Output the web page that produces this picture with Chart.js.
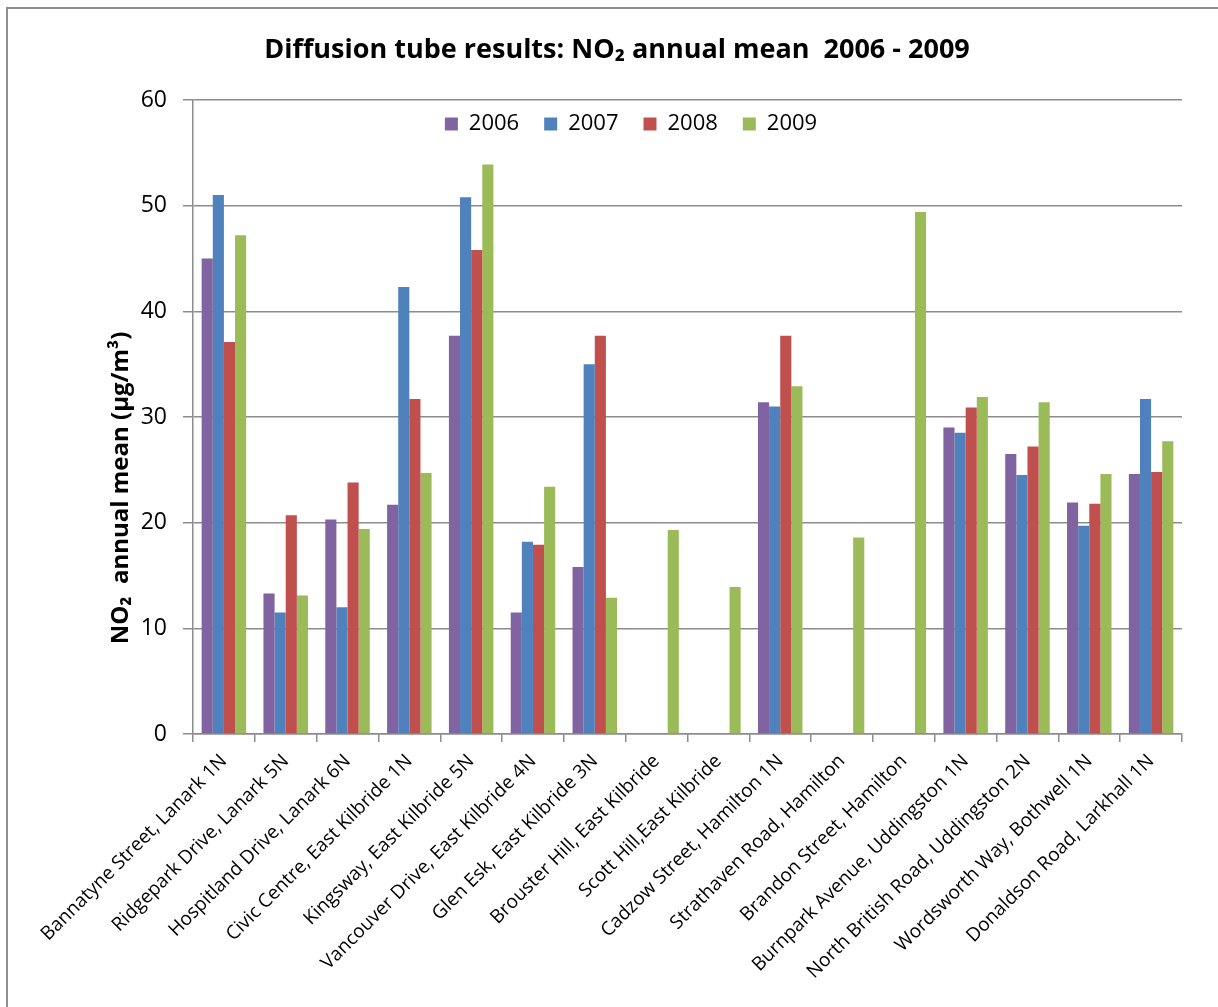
<!DOCTYPE html>
<html>
<head>
<meta charset="utf-8">
<title>Diffusion tube results</title>
<script src="https://cdn.jsdelivr.net/npm/chart.js@4.4.1/dist/chart.umd.min.js"></script>
<style>
    html, body { margin: 0; padding: 0; background: #fff; overflow: hidden; }
    #wrap { position: relative; width: 1218px; height: 1007px; }
    #frame {
        position: absolute; left: 6px; top: 7px; width: 1300px; height: 1100px;
        border-left: 2px solid #8e8e8e; border-top: 2px solid #8e8e8e;
        pointer-events: none;
    }
</style>
</head>
<body>
<div id="wrap">
    <canvas id="chart" width="1218" height="1007"></canvas>
    <div id="frame"></div>
</div>
<script>
const sites = [
    'Bannatyne Street, Lanark 1N',
    'Ridgepark Drive, Lanark 5N',
    'Hospitland Drive, Lanark 6N',
    'Civic Centre, East Kilbride 1N',
    'Kingsway, East Kilbride 5N',
    'Vancouver Drive, East Kilbride 4N',
    'Glen Esk, East Kilbride 3N',
    'Brouster Hill, East Kilbride',
    'Scott Hill,East Kilbride',
    'Cadzow Street, Hamilton 1N',
    'Strathaven Road, Hamilton',
    'Brandon Street, Hamilton',
    'Burnpark Avenue, Uddingston 1N',
    'North British Road, Uddingston 2N',
    'Wordsworth Way, Bothwell 1N',
    'Donaldson Road, Larkhall 1N'
];

const years = ['2006', '2007', '2008', '2009'];

// annual means, µg/m³ (null = no result that year)
const mean2006 = [45.0, 13.3, 20.3, 21.7, 37.7, 11.5, 15.8, null, null, 31.4, null, null, 29.0, 26.5, 21.9, 24.6];
const mean2007 = [51.0, 11.5, 12.0, 42.3, 50.8, 18.2, 35.0, null, null, 31.0, null, null, 28.5, 24.5, 19.7, 31.7];
const mean2008 = [37.1, 20.7, 23.8, 31.7, 45.8, 17.9, 37.7, null, null, 37.7, null, null, 30.9, 27.2, 21.8, 24.8];
const mean2009 = [47.2, 13.1, 19.4, 24.7, 53.9, 23.4, 12.9, 19.3, 13.9, 32.9, 18.6, 49.4, 31.9, 31.4, 24.6, 27.7];

const yTicks = [0, 10, 20, 30, 40, 50, 60];

const colours = ['#8064A2', '#4F81BD', '#C0504D', '#9BBB59'];
const gridGrey = '#8c8c8c';
const fontFamily = '"Open Sans", Lato, sans-serif';
const yTitle = 'NO\u2082  annual mean (\u00b5g/m\u00b3)';

// legend goes inside the plot area and the title sits a bit right of centre, like the original
const placeBlocks = {
    id: 'placeBlocks',
    afterUpdate(chart) {
        const l = chart.legend;
        const cx = 631, top = 88;
        const dx = cx - (l.left + l.right) / 2;
        const dy = top - l.top;
        l.left += dx; l.right += dx;
        l.top += dy; l.bottom = l.top + 70;
        l.legendHitBoxes.forEach(h => { h.left += dx; h.top += dy; });

        const t = chart.titleBlock;
        const tdx = 617 - (t.left + t.right) / 2;
        t.left += tdx; t.right += tdx;
    }
};

// y axis title sits low on the axis in the original
const yAxisTitle = {
    id: 'yAxisTitle',
    afterDraw(chart) {
        const c = chart.ctx;
        c.save();
        c.translate(121, 488);
        c.rotate(-Math.PI / 2);
        c.font = 'bold 24px ' + fontFamily;
        c.fillStyle = '#000';
        c.textAlign = 'center';
        c.textBaseline = 'middle';
        c.fillText(yTitle, 0, 0);
        c.restore();
    }
};

const ctx = document.getElementById('chart').getContext('2d');
const chart = new Chart(ctx, {
    type: 'bar',
    data: {
        labels: sites,
        datasets: [mean2006, mean2007, mean2008, mean2009].map((values, i) => ({
            label: years[i],
            data: values,
            backgroundColor: colours[i],
            borderWidth: 0,
            barPercentage: 1.0,
            categoryPercentage: 0.72
        }))
    },
    options: {
        responsive: false,
        animation: false,
        layout: { padding: { top: 0, right: 36, bottom: 0, left: 0 } },
        plugins: {
            title: {
                display: true,
                text: 'Diffusion tube results: NO\u2082 annual mean  2006 - 2009',
                color: '#000',
                font: { family: fontFamily, size: 27, weight: 'bold', lineHeight: 1.2 },
                padding: { top: 34, bottom: 32.6 }
            },
            legend: {
                position: 'top',
                maxHeight: 1,
                labels: {
                    color: '#000',
                    font: { family: fontFamily, size: 22 },
                    boxWidth: 13,
                    boxHeight: 13,
                    padding: 25
                }
            },
            tooltip: { enabled: false }
        },
        scales: {
            x: {
                offset: true,
                grid: {
                    offset: true,
                    drawOnChartArea: false,
                    drawTicks: true,
                    tickLength: 8,
                    color: gridGrey,
                    lineWidth: 1.5
                },
                border: { color: gridGrey, width: 1.5 },
                ticks: {
                    color: '#000',
                    autoSkip: false,
                    minRotation: 45,
                    maxRotation: 45,
                    padding: 8,
                    font: { family: fontFamily, size: 19 }
                },
                afterFit(scale) { scale.height = 273; }
            },
            y: {
                min: 0,
                max: 60,
                grid: {
                    color: gridGrey,
                    lineWidth: 1.5,
                    tickLength: 10
                },
                border: { color: gridGrey, width: 1.5 },
                afterBuildTicks(scale) { scale.ticks = yTicks.map(v => ({ value: v })); },
                ticks: {
                    color: '#000',
                    padding: 16,
                    font: { family: fontFamily, size: 23 }
                },
                afterFit(scale) { scale.width = 193; }
            }
        }
    },
    plugins: [placeBlocks, yAxisTitle]
});
</script>
</body>
</html>
